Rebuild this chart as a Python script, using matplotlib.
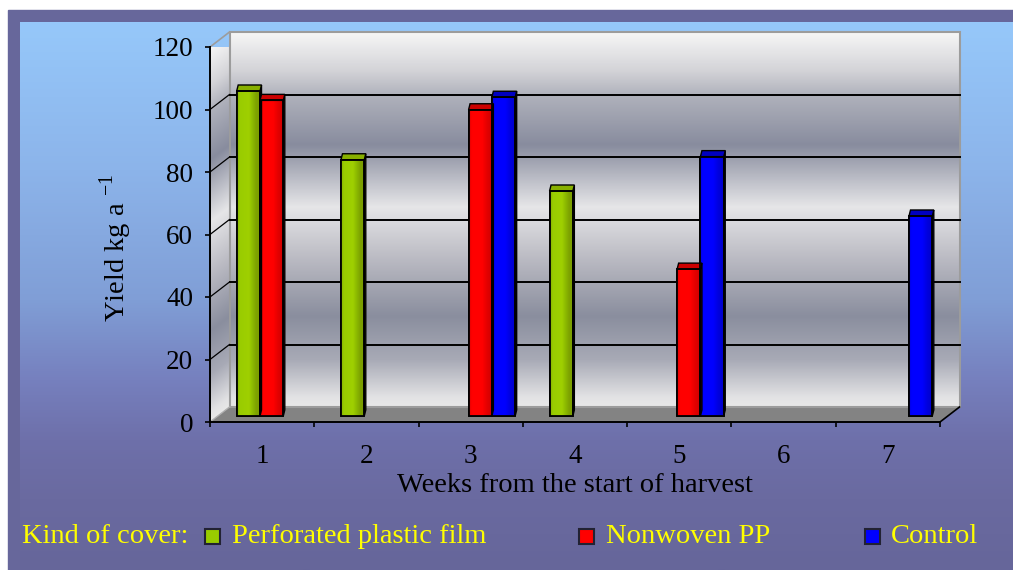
import numpy as np
import matplotlib
matplotlib.use("Agg")
import matplotlib.pyplot as plt
from matplotlib.patches import Rectangle, Polygon
from matplotlib.transforms import Affine2D
from matplotlib.colors import to_rgb

plt.rcParams['font.family'] = ['Liberation Serif', 'DejaVu Serif']
plt.rcParams['mathtext.fontset'] = 'custom'
plt.rcParams['mathtext.rm'] = 'Liberation Serif'

# ---- data -------------------------------------------------------------
weeks = ['1', '2', '3', '4', '5', '6', '7']
perforated_film = [104, 82, np.nan, 72, np.nan, np.nan, np.nan]
nonwoven_pp = [101, np.nan, 98, np.nan, 47, np.nan, np.nan]
control = [np.nan, np.nan, 102, np.nan, 83, np.nan, 64]
series_labels = ['Perforated plastic film', 'Nonwoven PP', 'Control']
series_colors = ['#99cc00', '#ff0000', '#0000ff']
y_ticks = [0, 20, 40, 60, 80, 100, 120]

W, H = 1013, 570
fig = plt.figure(figsize=(W / 100, H / 100), dpi=100)
fig.patch.set_facecolor('white')


def grad(stops, n=256):
    pos = np.array([s[0] for s in stops], float)
    cols = np.array([to_rgb(s[1]) for s in stops])
    t = np.linspace(pos.min(), pos.max(), n)
    return np.stack([np.interp(t, pos, cols[:, k]) for k in range(3)], axis=-1)


# ---- page background (pixel coordinates) ------------------------------
bg = fig.add_axes([0, 0, 1, 1])
bg.axis('off')
bg.add_patch(Rectangle((8, 10), W - 8, H - 10, color='#67679b', zorder=0))
panel = grad([(22, '#96c8fa'), (170, '#8cb4ea'), (300, '#809ed6'),
              (380, '#7680be'), (440, '#6e70aa'), (500, '#6a6aa0'),
              (570, '#66669a')])
bg.imshow(panel[:, None, :], extent=(20, W, H, 22), aspect='auto', zorder=1)
bg.set_xlim(0, W)
bg.set_ylim(H, 0)

# ---- plot frame -------------------------------------------------------
FX0, FX1, FY0, FY1 = 210, 940, 422, 47
ax = fig.add_axes([FX0 / W, 1 - FY0 / H, (FX1 - FX0) / W, (FY0 - FY1) / H])
ax.set_xlim(0, len(weeks))
ax.set_ylim(0, 120)
ax.set_autoscale_on(False)
ax.patch.set_visible(False)

# depth of the pseudo-3D box, in data units
px_x = (FX1 - FX0) / len(weeks)
px_y = (FY0 - FY1) / 120
DX, DY = 19.5 / px_x, 15 / px_y

back = Affine2D().translate(DX, DY) + ax.transData
side = Affine2D(np.array([[DX, 0, 0], [DY, 1, 0], [0, 0, 1]])) + ax.transData
floor = Affine2D(np.array([[1, DX, 0], [0, DY, 0], [0, 0, 1]])) + ax.transData

wall = grad([(0, '#e8e8e8'), (3, '#e2e2e4'), (15, '#a8aab6'), (29, '#8a8e9e'),
             (48, '#bcbcc4'), (64, '#e6e6e8'), (84, '#888c9e'), (100, '#b0b2bc'),
             (108, '#d4d4d8'), (120, '#f6f6f6')])

im = ax.imshow(wall[:, None, :], extent=(0, len(weeks), 0, 120), origin='lower',
               aspect='auto', zorder=1)
im.set_transform(back)
im.set_clip_on(False)

# left side wall: skewed gradient clipped to its parallelogram
side_shape = Polygon([(0, 0), (1, 0), (1, 120), (0, 120)], closed=True,
                     transform=side, fc='none', ec='none')
ax.add_patch(side_shape)
side_shape.set_clip_on(False)
im2 = ax.imshow(wall[:, None, :], extent=(0, 1, 0, 120), origin='lower',
                aspect='auto', zorder=1)
im2.set_transform(side)
im2.set_clip_path(side_shape)

ax.add_patch(Polygon([(0, 0), (len(weeks), 0), (len(weeks), 1), (0, 1)],
                     closed=True, transform=floor, fc='#838383', ec='none',
                     zorder=1.5, clip_on=False))
ax.add_patch(Rectangle((0, 0), len(weeks), 120, transform=back, fill=False,
                       ec='#9c9c9c', lw=1.5, zorder=1.6, clip_on=False))
ax.plot([0, 1], [120, 120], transform=side, color='#9c9c9c', lw=1.2,
        zorder=1.6, clip_on=False)
ax.plot([0, 1], [0, 0], transform=side, color='#b0b0b0', lw=1.0,
        zorder=1.6, clip_on=False)

for v in y_ticks[1:-1]:
    ax.plot([0, len(weeks)], [v, v], transform=back, color='black', lw=1.4,
            zorder=2, clip_on=False)
    ax.plot([0, 1], [v, v], transform=side, color='black', lw=0.9,
            zorder=2, clip_on=False)
ax.plot([len(weeks), len(weeks)], [0, 1], transform=floor, color='black',
        lw=1.2, zorder=2, clip_on=False)

# ---- axes lines, ticks, labels ---------------------------------------
for s in ['top', 'right']:
    ax.spines[s].set_visible(False)
for s in ['left', 'bottom']:
    ax.spines[s].set_linewidth(1.4)
    ax.spines[s].set_color('black')
    ax.spines[s].set_zorder(5)

ax.set_yticks(y_ticks)
ax.set_yticklabels([str(v) for v in y_ticks], fontsize=19.5)
ax.tick_params(axis='y', direction='out', length=3.6, width=1.2, pad=8.5)
ax.set_xticks(np.arange(len(weeks) + 1))
ax.set_xticklabels([])
ax.tick_params(axis='x', which='major', direction='out', length=3.6, width=1.2)
ax.set_xticks(np.arange(len(weeks)) + 0.5, minor=True)
ax.set_xticklabels(weeks, minor=True, fontsize=19.5)
ax.tick_params(axis='x', which='minor', length=0, pad=16)

fig.text(575 / W, 1 - 492 / H, 'Weeks from the start of harvest',
         ha='center', va='baseline', fontsize=20.5, color='black')
fig.text(116 / W, 1 - 248 / H, r'Yield kg a $^{-1}$', rotation=90,
         ha='center', va='center', fontsize=20.5, color='black')

# ---- bars ------------------------------------------------------------
BAR_W = 23.3 / px_x
bar_tr = Affine2D().translate(9.5 / px_x, 6 / px_y) + ax.transData
CX, CY = 1.5 / px_x, 6 / px_y

face_grads = [
    grad([(0, '#86b000'), (0.12, '#99cc00'), (0.5, '#9fd000'), (0.65, '#8cba00'),
          (0.8, '#7ea200'), (1, '#7a9c00')]),
    grad([(0, '#e00000'), (0.12, '#ff0000'), (0.55, '#ff0000'), (0.75, '#e40000'),
          (1, '#cc0000')]),
    grad([(0, '#0000e0'), (0.12, '#0000ff'), (0.55, '#0000ff'), (0.75, '#0000e0'),
          (1, '#0000c8')]),
]
cap_colors = ['#88b000', '#cc0000', '#0000c0']
side_colors = ['#6e8c00', '#b00000', '#0000a8']

series = [perforated_film, nonwoven_pp, control]
for i, vals in enumerate(series):
    xpos = np.arange(len(weeks)) + 0.5 + (i - 1) * BAR_W
    bars = ax.bar(xpos, vals, width=BAR_W, color=series_colors[i],
                  edgecolor='black', lw=1.2, zorder=3, transform=bar_tr,
                  clip_on=False)
    for b in bars:
        h = b.get_height()
        if not np.isfinite(h) or h <= 0:
            continue
        x0, w = b.get_x(), b.get_width()
        img = ax.imshow(face_grads[i][None, :, :], extent=(x0, x0 + w, 0, h),
                        aspect='auto', zorder=3.1)
        img.set_transform(bar_tr)
        img.set_clip_on(False)
        ax.add_patch(Polygon([(x0 + w, 0), (x0 + w, h), (x0 + w + CX, h + CY),
                              (x0 + w + CX, CY)], closed=True,
                             fc=side_colors[i], ec='black', lw=1.0,
                             transform=bar_tr, zorder=3.2, clip_on=False))
        ax.add_patch(Polygon([(x0, h), (x0 + w, h), (x0 + w + CX, h + CY),
                              (x0 + CX, h + CY)], closed=True,
                             fc=cap_colors[i], ec='black', lw=1.0,
                             transform=bar_tr, zorder=3.2, clip_on=False))
        ax.add_patch(Rectangle((x0, 0), w, h, fill=False, ec='black', lw=1.3,
                               transform=bar_tr, zorder=3.3, clip_on=False))

# ---- legend row --------------------------------------------------------
LY = 543
fig.text(22 / W, 1 - LY / H, 'Kind of cover:', color='#ffff00',
         fontsize=20.5, va='baseline')
for lab, col, sx, tx in zip(series_labels, series_colors, [205, 579, 865],
                            [232, 606, 891]):
    bg.add_patch(Rectangle((sx, 529), 15, 15, fc=col, ec='#222233', lw=1.5,
                           zorder=3))
    fig.text(tx / W, 1 - LY / H, lab, color='#ffff00', fontsize=20.5,
             va='baseline')

fig.savefig('out.png', dpi=100, facecolor=fig.get_facecolor())
